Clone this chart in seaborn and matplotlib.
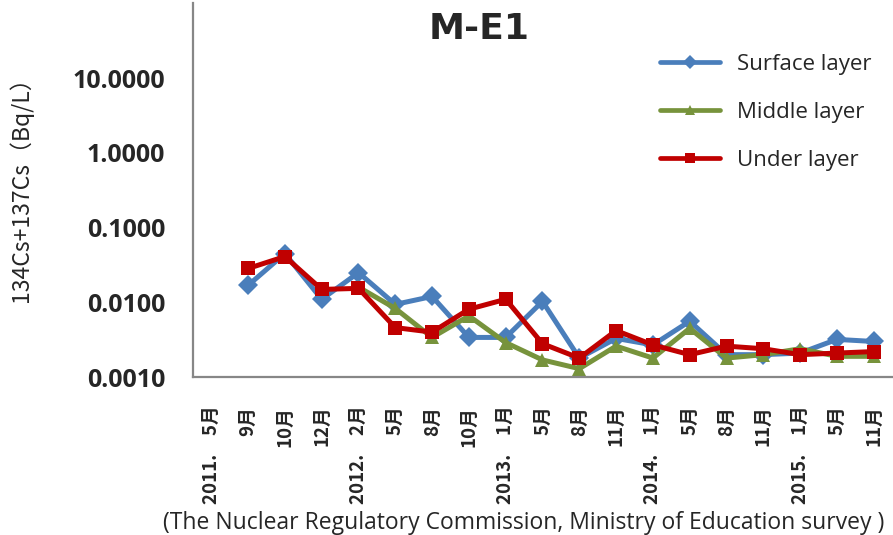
import numpy as np
import pandas as pd
import seaborn as sns
import matplotlib.pyplot as plt
from matplotlib.ticker import FixedLocator, NullLocator

# categories along the x axis
months = ['2011.　5月', '9月', '10月', '12月', '2012.　2月', '5月', '8月', '10月',
          '2013.　1月', '5月', '8月', '11月', '2014.　1月', '5月', '8月', '11月',
          '2015.　1月', '5月', '11月']

# values in Bq/L
surface = [np.nan, 0.0169, 0.045, 0.011, 0.025, 0.0094, 0.012, 0.0034, 0.0034,
           0.0103, 0.0018, 0.0033, 0.0027, 0.0056, 0.0020, 0.0020, 0.0021, 0.0032, 0.0030]
middle = [np.nan, np.nan, np.nan, np.nan, 0.016, 0.0083, 0.0034, 0.0066, 0.0029,
          0.0017, 0.0013, 0.0026, 0.0018, 0.0045, 0.0018, 0.0020, 0.0024, 0.0019, 0.0019]
under = [np.nan, 0.0284, 0.041, 0.0149, 0.0154, 0.0046, 0.0040, 0.0081, 0.011,
         0.0028, 0.0018, 0.0042, 0.0027, 0.0020, 0.0026, 0.0024, 0.0020, 0.0021, 0.0022]

series = ['Surface layer', 'Middle layer', 'Under layer']
colors = ['#4a7ebb', '#77933c', '#c00000']
marks = ['D', '^', 's']

rows = []
for name, vals in zip(series, [surface, middle, under]):
    for i, v in enumerate(vals):
        rows.append({'pos': i, 'value': v, 'layer': name})
df = pd.DataFrame(rows).dropna()

sns.set_style('white')
plt.rcParams['font.family'] = ['Noto Sans CJK JP', 'DejaVu Sans']

fig = plt.figure(figsize=(8.93, 5.35), dpi=100)
ax = fig.add_axes([0.216, 0.295, 0.783, 0.699])

sns.lineplot(data=df, x='pos', y='value', hue='layer', style='layer',
             hue_order=series, style_order=series,
             palette=dict(zip(series, colors)), markers=dict(zip(series, marks)),
             dashes=False, linewidth=3.6, markersize=10, markeredgewidth=0,
             ax=ax, legend=False)

ax.set_yscale('log')
ax.set_ylim(0.001, 100)
ax.set_yticks([0.001, 0.01, 0.1, 1, 10])
ax.set_yticklabels(['0.0010', '0.0100', '0.1000', '1.0000', '10.0000'],
                   fontsize=18, fontweight='bold', family=['Open Sans', 'DejaVu Sans'])
ax.yaxis.set_minor_locator(NullLocator())

ax.set_xlim(-0.5, len(months) - 0.5)
ax.set_xticks(range(len(months)))
ax.set_xticklabels(months, rotation=90, fontsize=13.5, fontweight='bold', va='top')
ax.xaxis.set_minor_locator(FixedLocator(np.arange(0.5, len(months) - 0.5, 1)))
ax.tick_params(axis='x', which='major', length=0, pad=20.5)
ax.tick_params(axis='x', which='minor', direction='in', length=5, color='#878787', width=1)
ax.tick_params(axis='y', which='major', direction='in', length=6, color='#878787', width=1, pad=20)

for s in ['top', 'right']:
    ax.spines[s].set_visible(False)
for s in ['left', 'bottom']:
    ax.spines[s].set_color('#878787')
    ax.spines[s].set_linewidth(1.6)

ax.set_xlabel('')
ax.set_ylabel('134Cs+137Cs（Bq/L）', fontsize=16.5)
ax.yaxis.set_label_coords(-0.228, 0.517)

ax.text(0.41, 0.93, 'M-E1', transform=ax.transAxes, ha='center', va='center',
        fontsize=26, fontweight='bold', family='DejaVu Sans')

handles = [plt.Line2D([], [], color=c, marker=m, lw=3.4, markersize=7, markeredgewidth=0)
           for c, m in zip(colors, marks)]
ax.legend(handles, series, loc='upper left', bbox_to_anchor=(0.640, 0.917), frameon=False,
          prop={'family': 'Open Sans', 'size': 16}, handlelength=2.7, handletextpad=0.77,
          labelspacing=1.2)

fig.text(0.586, 0.022, '(The Nuclear Regulatory Commission, Ministry of Education survey )',
         ha='center', va='center', fontsize=16.5, family=['Open Sans', 'DejaVu Sans'])

fig.savefig('out.png', dpi=100)
